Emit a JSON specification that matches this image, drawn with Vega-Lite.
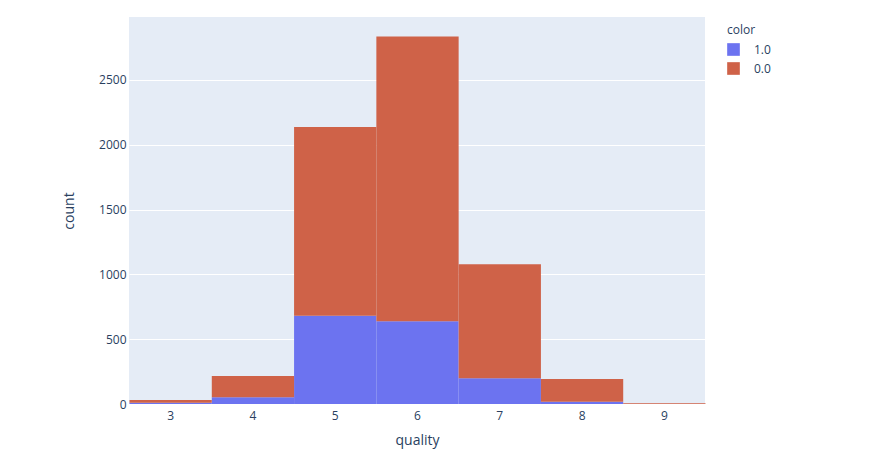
{
  "$schema": "https://vega.github.io/schema/vega-lite/v6.json",
  "width": 576,
  "height": 387,
  "autosize": {"type": "none"},
  "padding": {"left": 129, "top": 17, "right": 185, "bottom": 58},
  "background": "white",
  "data": {
    "values": [
      {"quality": 3, "color": "1.0", "count": 10},
      {"quality": 4, "color": "1.0", "count": 53},
      {"quality": 5, "color": "1.0", "count": 681},
      {"quality": 6, "color": "1.0", "count": 638},
      {"quality": 7, "color": "1.0", "count": 199},
      {"quality": 8, "color": "1.0", "count": 18},
      {"quality": 3, "color": "0.0", "count": 20},
      {"quality": 4, "color": "0.0", "count": 163},
      {"quality": 5, "color": "0.0", "count": 1457},
      {"quality": 6, "color": "0.0", "count": 2198},
      {"quality": 7, "color": "0.0", "count": 880},
      {"quality": 8, "color": "0.0", "count": 175},
      {"quality": 9, "color": "0.0", "count": 5}
    ]
  },
  "mark": {"type": "bar", "binSpacing": 0},
  "encoding": {
    "x": {
      "field": "quality",
      "type": "quantitative",
      "bin": {"step": 1, "anchor": 2.5, "extent": [2.5, 9.5], "nice": false},
      "scale": {"domain": [2.5, 9.5], "nice": false, "zero": false},
      "axis": {"values": [3, 4, 5, 6, 7, 8, 9], "title": "quality", "format": "d"}
    },
    "y": {
      "aggregate": "sum",
      "field": "count",
      "type": "quantitative",
      "stack": "zero",
      "scale": {"domain": [0, 2986], "nice": false},
      "axis": {"values": [0, 500, 1000, 1500, 2000, 2500], "title": "count", "titlePadding": 22, "format": "d"}
    },
    "color": {
      "field": "color",
      "type": "nominal",
      "scale": {"domain": ["1.0", "0.0"], "range": ["#6c73f0", "#cf6248"]},
      "legend": {"title": "color", "orient": "none", "legendX": 586, "legendY": -4}
    },
    "order": {"field": "color", "sort": "descending"}
  },
  "config": {
    "font": "Open Sans",
    "view": {"fill": "#e5ecf6", "stroke": null},
    "axis": {
      "domain": false,
      "ticks": false,
      "grid": true,
      "gridColor": "white",
      "gridWidth": 1,
      "labelColor": "#2a3f5f",
      "labelFontSize": 12,
      "labelFont": "Open Sans",
      "titleColor": "#2a3f5f",
      "titleFontSize": 14,
      "titleFontWeight": "normal",
      "titleFont": "Open Sans",
      "labelPadding": 4
    },
    "axisX": {"grid": false, "titlePadding": 12, "labelPadding": 6},
    "axisY": {"labelPadding": 3},
    "legend": {
      "titleColor": "#2a3f5f",
      "titleFontSize": 12,
      "titleFontWeight": "normal",
      "titleFont": "Open Sans",
      "labelColor": "#2a3f5f",
      "labelFontSize": 12,
      "labelFont": "Open Sans",
      "symbolType": "square",
      "symbolSize": 160,
      "symbolStrokeWidth": 0,
      "rowPadding": 6,
      "labelOffset": 14,
      "titlePadding": 6,
      "padding": 12
    }
  }
}
